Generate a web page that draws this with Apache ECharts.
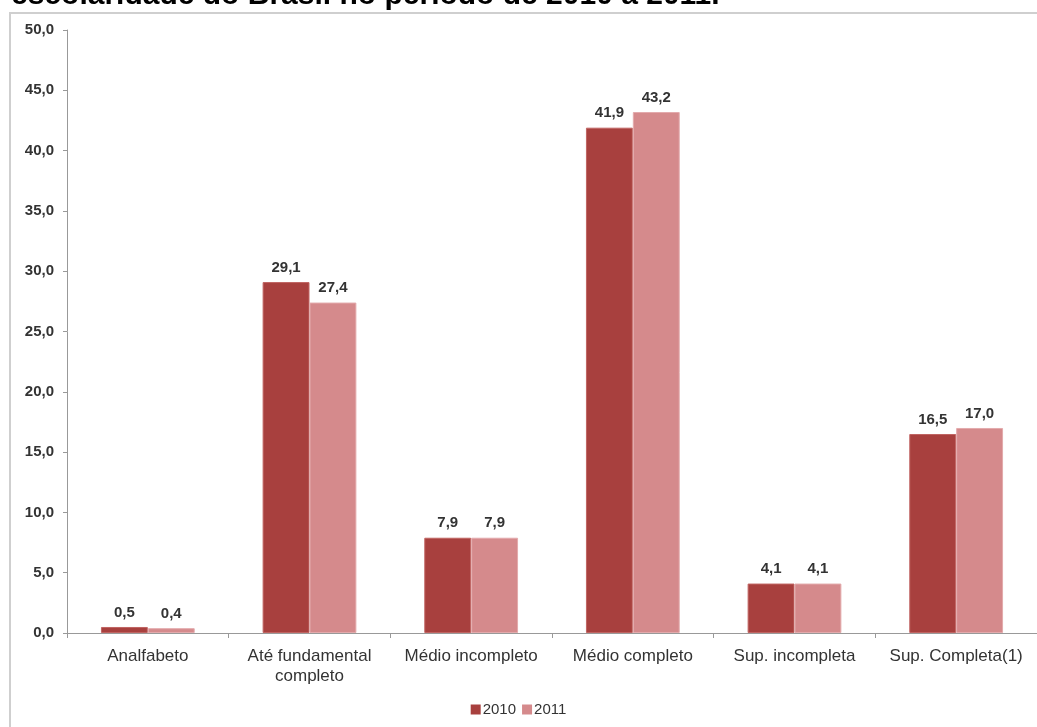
<!DOCTYPE html>
<html><head><meta charset="utf-8">
<script src="https://cdn.jsdelivr.net/npm/echarts@6/dist/echarts.min.js"></script>
<style>html,body{margin:0;padding:0;background:#fff}#c{width:1037px;height:727px}</style>
</head><body><div id="c"></div>
<script>
const categories = ["Analfabeto", "Até fundamental\ncompleto", "Médio incompleto", "Médio completo", "Sup. incompleta", "Sup. Completa(1)"];
const values2010 = [0.5, 29.1, 7.9, 41.9, 4.1, 16.5];
const values2011 = [0.4, 27.4, 7.9, 43.2, 4.1, 17.0];
const yTicks = [0, 5, 10, 15, 20, 25, 30, 35, 40, 45, 50];
const titleText = "escolaridade do Brasil no período de 2010 a 2011.";

const fmt = v => v.toFixed(1).replace('.', ',');
const FF = 'Liberation Sans, Arial, sans-serif';
const chart = echarts.init(document.getElementById('c'), null, {renderer: 'canvas'});
const labelStyle = {show: true, position: 'top', distance: 7, color: '#333', fontSize: 15, fontWeight: 'bold', fontFamily: FF, formatter: p => fmt(p.value)};
chart.setOption({
  animation: false,
  backgroundColor: '#fff',
  title: {text: titleText, left: 6, top: -24, textStyle: {fontSize: 30, fontWeight: 'bold', color: '#000', fontFamily: FF, lineHeight: 30}},
  graphic: [{type: 'rect', shape: {x: 10, y: 13, width: 1040, height: 730}, style: {fill: 'none', stroke: '#cfcfcf', lineWidth: 2}, z: -1}],
  legend: {bottom: 5, left: 'center', itemWidth: 10, itemHeight: 10, itemGap: 6, itemStyle: {borderWidth: 0}, icon: 'rect', textStyle: {fontSize: 15, color: '#333', fontFamily: FF, padding: [0, 0, 0, -3]}},
  grid: {left: 67, right: 0, top: 30, bottom: 94, containLabel: false},
  xAxis: {type: 'category', data: categories,
    axisLine: {lineStyle: {color: '#999'}},
    axisTick: {show: true, length: 5, lineStyle: {color: '#999'}},
    axisLabel: {color: '#333', fontSize: 17, margin: 13, lineHeight: 20, interval: 0, fontFamily: FF}},
  yAxis: {type: 'value', min: 0, max: 50, interval: 5,
    axisLine: {show: true, lineStyle: {color: '#999'}},
    axisTick: {show: true, length: 4, lineStyle: {color: '#999'}},
    splitLine: {show: false},
    axisLabel: {color: '#333', fontSize: 15, fontWeight: 'bold', margin: 13, fontFamily: FF, formatter: v => yTicks.includes(v) ? fmt(v) : ''}},
  series: [
    {name: '2010', type: 'bar', data: values2010, barGap: '0%', barCategoryGap: '42%', itemStyle: {color: '#a8403e', borderColor: '#c06462', borderWidth: 1}, label: labelStyle},
    {name: '2011', type: 'bar', data: values2011, itemStyle: {color: '#d58a8c', borderColor: '#e3aaac', borderWidth: 1}, label: labelStyle}
  ]
});
</script></body></html>
